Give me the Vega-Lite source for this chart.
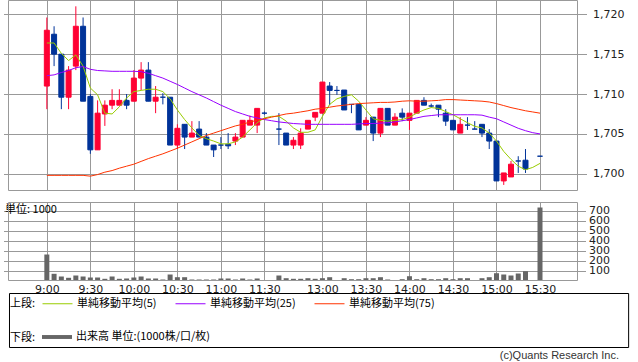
{
  "$schema": "https://vega.github.io/schema/vega-lite/v6.json",
  "width": 638,
  "height": 362,
  "padding": 0,
  "autosize": {"type": "none"},
  "background": "white",
  "config": {
    "view": {"stroke": null},
    "axis": {"labelFont": "DejaVu Sans", "labelFontSize": 11, "labelColor": "#222", "gridColor": "#999999", "gridOpacity": 1, "gridWidth": 1, "tickColor": "#999999", "domain": false, "title": null, "labelOverlap": false, "labelFlush": false, "labelBound": false}
  },
  "title": {"text": "(c)Quants Research Inc.", "orient": "bottom", "anchor": "end", "frame": "group", "offset": -12, "dx": -19, "font": "Liberation Sans", "fontSize": 11, "fontWeight": "normal", "color": "#333333"},
  "data": {"values": [
    {"i":0,"o":1711,"h":1719.6,"l":1708.1,"c":1718,"vol":260,"m5":1716.4,"m25":1712.3,"m75":1699.8},
    {"i":1,"o":1717.5,"h":1718.5,"l":1713.5,"c":1715,"vol":67,"m5":1716.4,"m25":1712.4,"m75":1699.8},
    {"i":2,"o":1715,"h":1715,"l":1708.1,"c":1709.6,"vol":40,"m5":1715.1,"m25":1712.7,"m75":1699.8},
    {"i":3,"o":1709.6,"h":1713.5,"l":1708.1,"c":1713,"vol":27,"m5":1714.2,"m25":1712.95,"m75":1699.8},
    {"i":4,"o":1713.5,"h":1721,"l":1713,"c":1718.5,"vol":50,"m5":1714.9,"m25":1713.3,"m75":1699.8},
    {"i":5,"o":1718.5,"h":1719.6,"l":1709.1,"c":1709.1,"vol":40,"m5":1713.5,"m25":1713.45,"m75":1699.8},
    {"i":6,"o":1709.7,"h":1710,"l":1702.5,"c":1703,"vol":30,"m5":1710.75,"m25":1713.1,"m75":1699.7},
    {"i":7,"o":1703,"h":1709.2,"l":1703,"c":1707.6,"vol":30,"m5":1709.9,"m25":1712.95,"m75":1699.9},
    {"i":8,"o":1707.5,"h":1709.2,"l":1706,"c":1708.6,"vol":17,"m5":1707.6,"m25":1712.9,"m75":1700.2},
    {"i":9,"o":1708.6,"h":1710.6,"l":1708.1,"c":1709.2,"vol":40,"m5":1707.5,"m25":1712.85,"m75":1700.4},
    {"i":10,"o":1708.6,"h":1710.6,"l":1708.6,"c":1709.2,"vol":17,"m5":1708.4,"m25":1712.85,"m75":1700.7},
    {"i":11,"o":1709.2,"h":1710,"l":1708.1,"c":1708.6,"vol":20,"m5":1709.5,"m25":1712.85,"m75":1700.95},
    {"i":12,"o":1709.1,"h":1713,"l":1709.1,"c":1712,"vol":30,"m5":1710.3,"m25":1712.85,"m75":1701.2},
    {"i":13,"o":1712,"h":1714,"l":1710.5,"c":1713,"vol":40,"m5":1710.45,"m25":1712.8,"m75":1701.55},
    {"i":14,"o":1713,"h":1714,"l":1709.1,"c":1709.1,"vol":20,"m5":1710.6,"m25":1712.6,"m75":1701.9},
    {"i":15,"o":1709.1,"h":1711,"l":1707.6,"c":1709.6,"vol":20,"m5":1710.6,"m25":1712.3,"m75":1702.2},
    {"i":16,"o":1709.6,"h":1710.1,"l":1708.7,"c":1709.6,"vol":10,"m5":1710.3,"m25":1712.0,"m75":1702.5},
    {"i":17,"o":1709.6,"h":1709.6,"l":1703.6,"c":1703.6,"vol":60,"m5":1709.4,"m25":1711.6,"m75":1702.85},
    {"i":18,"o":1703.6,"h":1706.2,"l":1703.1,"c":1705.7,"vol":33,"m5":1708,"m25":1711.2,"m75":1703.2},
    {"i":19,"o":1706.2,"h":1706.2,"l":1703.1,"c":1704.6,"vol":33,"m5":1706.8,"m25":1710.75,"m75":1703.6},
    {"i":20,"o":1704.6,"h":1706.6,"l":1704.6,"c":1705.1,"vol":10,"m5":1705.75,"m25":1710.3,"m75":1704.0},
    {"i":21,"o":1705.6,"h":1706.6,"l":1704.6,"c":1704.6,"vol":10,"m5":1704.8,"m25":1709.9,"m75":1704.4},
    {"i":22,"o":1704.6,"h":1705.1,"l":1703.6,"c":1703.6,"vol":10,"m5":1704.4,"m25":1709.5,"m75":1704.8},
    {"i":23,"o":1703.6,"h":1703.6,"l":1702.1,"c":1703,"vol":10,"m5":1704.1,"m25":1709.05,"m75":1705.1},
    {"i":24,"o":1703.6,"h":1704.6,"l":1703.1,"c":1703.6,"vol":20,"m5":1703.75,"m25":1708.6,"m75":1705.4},
    {"i":25,"o":1703.7,"h":1705.1,"l":1703.1,"c":1703.5,"vol":20,"m5":1703.75,"m25":1708.2,"m75":1705.7},
    {"i":26,"o":1704.1,"h":1705.1,"l":1703.6,"c":1704.6,"vol":10,"m5":1704,"m25":1707.8,"m75":1706.0},
    {"i":27,"o":1704.6,"h":1706.7,"l":1704.6,"c":1706.7,"vol":20,"m5":1704.6,"m25":1707.5,"m75":1706.2},
    {"i":28,"o":1706.1,"h":1707.3,"l":1706.1,"c":1706.7,"vol":10,"m5":1705.5,"m25":1707.2,"m75":1706.5},
    {"i":29,"o":1706.1,"h":1708.2,"l":1705.1,"c":1708.2,"vol":20,"m5":1706.4,"m25":1707.0,"m75":1706.7},
    {"i":30,"o":1707.6,"h":1707.8,"l":1707.4,"c":1707.6,"vol":4,"m5":1707,"m25":1706.8,"m75":1706.9},
    {"i":31,"m5":1707.2,"m25":1706.65,"m75":1707.1},
    {"i":32,"o":1705.6,"h":1707.6,"l":1703.6,"c":1705.6,"vol":50,"m5":1707.2,"m25":1706.5,"m75":1707.3},
    {"i":33,"o":1705.1,"h":1705.1,"l":1703.6,"c":1703.6,"vol":23,"m5":1706.6,"m25":1706.4,"m75":1707.5},
    {"i":34,"o":1703.6,"h":1704.6,"l":1703.1,"c":1704.2,"vol":17,"m5":1705.75,"m25":1706.3,"m75":1707.6},
    {"i":35,"o":1703.6,"h":1705.7,"l":1703.1,"c":1705.1,"vol":17,"m5":1705.2,"m25":1706.25,"m75":1707.75},
    {"i":36,"o":1705.6,"h":1706.7,"l":1705.6,"c":1706.7,"vol":23,"m5":1705.2,"m25":1706.2,"m75":1707.9},
    {"i":37,"o":1707.1,"h":1707.7,"l":1706.6,"c":1707.7,"vol":17,"m5":1705.5,"m25":1706.2,"m75":1708.1},
    {"i":38,"o":1707.6,"h":1711.5,"l":1707.6,"c":1711.5,"vol":23,"m5":1707.2,"m25":1706.2,"m75":1708.2},
    {"i":39,"o":1711,"h":1711.5,"l":1708.6,"c":1710.45,"vol":33,"m5":1708.7,"m25":1706.2,"m75":1708.35},
    {"i":40,"o":1710.45,"h":1711,"l":1709.9,"c":1710.45,"vol":3,"m5":1709.4,"m25":1706.2,"m75":1708.5},
    {"i":41,"o":1710.5,"h":1710.5,"l":1708,"c":1708,"vol":23,"m5":1709.7,"m25":1706.2,"m75":1708.6},
    {"i":42,"o":1708.7,"h":1708.7,"l":1707.6,"c":1708.7,"vol":13,"m5":1709.9,"m25":1706.2,"m75":1708.7},
    {"i":43,"o":1708.7,"h":1708.7,"l":1705.5,"c":1705.5,"vol":13,"m5":1709.1,"m25":1706.25,"m75":1708.8},
    {"i":44,"o":1706.1,"h":1707.1,"l":1706.1,"c":1706.7,"vol":23,"m5":1708,"m25":1706.3,"m75":1708.85},
    {"i":45,"o":1707.1,"h":1707.1,"l":1704.1,"c":1705.1,"vol":23,"m5":1706.9,"m25":1706.3,"m75":1708.9},
    {"i":46,"o":1705.1,"h":1708.2,"l":1704.6,"c":1708.2,"vol":33,"m5":1706.7,"m25":1706.35,"m75":1708.95},
    {"i":47,"o":1708.2,"h":1708.2,"l":1706.1,"c":1706.1,"vol":10,"m5":1706.6,"m25":1706.4,"m75":1708.95},
    {"i":48,"o":1706.1,"h":1707.6,"l":1706.1,"c":1707.1,"vol":3,"m5":1706.7,"m25":1706.5,"m75":1709.0},
    {"i":49,"o":1707.6,"h":1708.2,"l":1706.6,"c":1707.1,"vol":13,"m5":1706.8,"m25":1706.65,"m75":1709.1},
    {"i":50,"o":1706.7,"h":1707.6,"l":1705.5,"c":1707.6,"vol":43,"m5":1707.1,"m25":1706.8,"m75":1709.15},
    {"i":51,"o":1707.6,"h":1709.2,"l":1707.6,"c":1709.2,"vol":13,"m5":1707.6,"m25":1707.0,"m75":1709.1},
    {"i":52,"o":1709.2,"h":1709.6,"l":1708.6,"c":1708.6,"vol":23,"m5":1708,"m25":1707.2,"m75":1709.1},
    {"i":53,"o":1708.5,"h":1708.8,"l":1708.3,"c":1708.5,"vol":13,"m5":1708.3,"m25":1707.3,"m75":1709.15},
    {"i":54,"o":1708.6,"h":1708.6,"l":1707.1,"c":1708.1,"vol":13,"m5":1708.2,"m25":1707.4,"m75":1709.2},
    {"i":55,"o":1707.6,"h":1708.1,"l":1706,"c":1706.6,"vol":23,"m5":1707.8,"m25":1707.4,"m75":1709.3},
    {"i":56,"o":1706.7,"h":1706.7,"l":1705.5,"c":1705.5,"vol":13,"m5":1707.4,"m25":1707.4,"m75":1709.3},
    {"i":57,"o":1705.1,"h":1707.1,"l":1705.1,"c":1706.2,"vol":23,"m5":1706.9,"m25":1707.4,"m75":1709.25},
    {"i":58,"o":1706.1,"h":1707.1,"l":1705.5,"c":1706.1,"vol":23,"m5":1706.4,"m25":1707.4,"m75":1709.2},
    {"i":59,"o":1705.6,"h":1706.6,"l":1705.6,"c":1705.6,"vol":3,"m5":1705.95,"m25":1707.4,"m75":1709.15},
    {"i":60,"o":1706.2,"h":1706.2,"l":1704.6,"c":1705.1,"vol":23,"m5":1705.75,"m25":1707.35,"m75":1709.1},
    {"i":61,"o":1705.1,"h":1705.6,"l":1703.1,"c":1704.1,"vol":33,"m5":1705.1,"m25":1707.1,"m75":1709.0},
    {"i":62,"o":1704.1,"h":1704.1,"l":1699.1,"c":1699.1,"vol":73,"m5":1704.1,"m25":1706.9,"m75":1708.8},
    {"i":63,"o":1699.1,"h":1700.1,"l":1698.6,"c":1700.1,"vol":60,"m5":1702.8,"m25":1706.5,"m75":1708.55},
    {"i":64,"o":1699.6,"h":1701.6,"l":1699.6,"c":1701.2,"vol":50,"m5":1701.8,"m25":1706.1,"m75":1708.3},
    {"i":65,"o":1701.6,"h":1702.2,"l":1700.1,"c":1701.6,"vol":70,"m5":1700.95,"m25":1705.7,"m75":1708.1},
    {"i":66,"o":1701.7,"h":1703.1,"l":1700.1,"c":1700.6,"vol":93,"m5":1700.5,"m25":1705.4,"m75":1707.9},
    {"i":67,"m5":1700.8,"m25":1705.15,"m75":1707.75},
    {"i":68,"o":1702.2,"h":1702.2,"l":1702.2,"c":1702.2,"vol":730,"m5":1701.3,"m25":1705.0,"m75":1707.6}
  ]},
  "layer": [
    {
      "layer": [
        {
          "mark": {"type": "rule", "strokeWidth": 1},
          "encoding": {
            "x": {"field": "i", "type": "quantitative", "scale": {"domain": [-5.285, 73.17], "range": [3.5, 582.5], "nice": false, "zero": false}, "axis": {"orient": "top", "values": [0,6,12,18,24,30,38,44,50,56,62,68], "grid": true, "labels": false, "ticks": false, "domain": false, "title": null}},
            "y": {"field": "l", "type": "quantitative", "scale": {"domain": [1697.9, 1721.73], "range": [190.5, 0.5], "nice": false, "zero": false}, "axis": {"orient": "left", "values": [1700,1705,1710,1715,1720], "grid": true, "labels": false, "ticks": false, "domain": false, "title": null}},
            "y2": {"field": "h"},
            "stroke": {"condition": {"test": "datum.c > datum.o", "value": "#ff0033"}, "value": "#003399"}
          }
        },
        {
          "mark": {"type": "bar", "size": 5, "strokeWidth": 1},
          "encoding": {
            "x": {"field": "i", "type": "quantitative", "axis": null},
            "y": {"field": "o", "type": "quantitative", "axis": {"orient": "right", "offset": -55.5, "values": [1700,1705,1710,1715,1720], "format": ",", "grid": false, "ticks": true, "tickSize": 4, "labelPadding": 6, "domain": false, "title": null, "labelBaseline": "middle"}},
            "y2": {"field": "c"},
            "fill": {"condition": {"test": "datum.c > datum.o", "value": "#ff0033"}, "value": "#003399"},
            "stroke": {"condition": {"test": "datum.c > datum.o", "value": "#ff0033"}, "value": "#003399"}
          }
        },
        {
          "mark": {"type": "line", "strokeWidth": 1},
          "encoding": {
            "x": {"field": "i", "type": "quantitative", "axis": null},
            "y": {"field": "m5", "type": "quantitative", "axis": null},
            "color": {"datum": "単純移動平均(5)", "scale": {"domain": ["単純移動平均(5)", "単純移動平均(25)", "単純移動平均(75)"], "range": ["#99cc00", "#9900ff", "#ff3300"]},
              "legend": {"orient": "none", "legendX": 10, "legendY": 288, "direction": "horizontal", "padding": 0, "title": "上段:", "titleOrient": "left", "titleAnchor": "middle", "titleBaseline": "top", "titlePadding": 6, "titleFont": "Noto Sans CJK JP", "titleFontSize": 11, "titleFontWeight": "normal", "titleColor": "#000000", "symbolType": "stroke", "symbolSize": 900, "symbolStrokeWidth": 1, "labelFont": "Noto Sans CJK JP", "labelFontSize": 11, "labelColor": "#000000", "labelOffset": 4, "columnPadding": 16}}
          }
        },
        {
          "mark": {"type": "line", "strokeWidth": 1},
          "encoding": {
            "x": {"field": "i", "type": "quantitative", "axis": null},
            "y": {"field": "m25", "type": "quantitative", "axis": null},
            "color": {"datum": "単純移動平均(25)"}
          }
        },
        {
          "mark": {"type": "line", "strokeWidth": 1},
          "encoding": {
            "x": {"field": "i", "type": "quantitative", "axis": null},
            "y": {"field": "m75", "type": "quantitative", "axis": null},
            "color": {"datum": "単純移動平均(75)"}
          }
        },
        {
          "data": {"values": [{}]},
          "mark": {"type": "rect", "fill": "transparent", "stroke": "#999999", "strokeWidth": 1},
          "encoding": {
            "x": {"datum": -5.285, "type": "quantitative", "axis": null},
            "x2": {"datum": 73.17},
            "y": {"datum": 1697.9, "type": "quantitative", "axis": null},
            "y2": {"datum": 1721.73}
          }
        }
      ],
      "resolve": {"axis": {"x": "independent", "y": "independent"}}
    },
    {
      "layer": [
        {
          "mark": {"type": "bar", "size": 5},
          "encoding": {
            "x": {"field": "i", "type": "quantitative", "scale": {"domain": [-5.285, 73.17], "range": [3.5, 582.5], "nice": false, "zero": false}, "axis": {"orient": "bottom", "offset": -81.5, "values": [0,6,12,18,24,30,38,44,50,56,62,68], "labelExpr": "['9:00','9:30','10:00','10:30','11:00','11:30','13:00','13:30','14:00','14:30','15:00','15:30'][indexof([0,6,12,18,24,30,38,44,50,56,62,68], datum.value)]", "grid": false, "ticks": false, "domain": false, "labelPadding": 2.5, "title": null}},
            "y": {"field": "vol", "type": "quantitative", "scale": {"domain": [0, 780], "range": [280.5, 202.5], "nice": false, "zero": true}, "axis": {"orient": "right", "offset": -55.5, "values": [100,200,300,400,500,600,700], "grid": false, "ticks": true, "tickSize": 3, "labelPadding": 3, "domain": false, "labelBaseline": "middle", "title": "単位: 1000", "titleAngle": 0, "titleX": -578, "titleY": 209.5, "titleAlign": "left", "titleBaseline": "middle", "titleFont": "Noto Sans CJK JP", "titleFontSize": 11, "titleFontWeight": "normal", "titleColor": "#000000"}},
            "color": {"datum": "出来高 単位:(1000株/口/枚)", "scale": {"range": ["#666666"]},
              "legend": {"orient": "none", "legendX": 10, "legendY": 322, "direction": "horizontal", "padding": 0, "title": "下段:", "titleOrient": "left", "titleAnchor": "middle", "titleBaseline": "top", "titlePadding": 6, "titleFont": "Noto Sans CJK JP", "titleFontSize": 11, "titleFontWeight": "normal", "titleColor": "#000000", "symbolType": "M-1,-0.13H1V0.13H-1Z", "symbolSize": 900, "symbolStrokeWidth": 0, "labelFont": "Noto Sans CJK JP", "labelFontSize": 11, "labelColor": "#000000", "labelOffset": 4}}
          }
        },
        {
          "data": {"values": [{}]},
          "mark": {"type": "rect", "fill": "transparent", "stroke": "#999999", "strokeWidth": 1},
          "encoding": {
            "x": {"datum": -5.285, "type": "quantitative", "axis": {"orient": "top", "values": [0,6,12,18,24,30,38,44,50,56,62,68], "grid": true, "labels": false, "ticks": false, "domain": false, "title": null}},
            "x2": {"datum": 73.17},
            "y": {"datum": 0, "type": "quantitative", "axis": {"orient": "left", "values": [100,200,300,400,500,600,700], "grid": true, "labels": false, "ticks": false, "domain": false, "title": null}},
            "y2": {"datum": 780}
          }
        },
        {
          "data": {"values": [{}]},
          "mark": {"type": "rect", "fill": "transparent", "stroke": "#000000", "strokeWidth": 1},
          "encoding": {
            "x": {"datum": -5.149, "type": "quantitative", "axis": null},
            "x2": {"datum": 80.22},
            "y": {"datum": -130, "type": "quantitative", "axis": null},
            "y2": {"datum": -670}
          }
        }
      ],
      "resolve": {"axis": {"x": "independent", "y": "independent"}}
    }
  ],
  "resolve": {"scale": {"y": "independent", "color": "independent"}, "axis": {"x": "independent", "y": "independent"}, "legend": {"color": "independent"}}
}
